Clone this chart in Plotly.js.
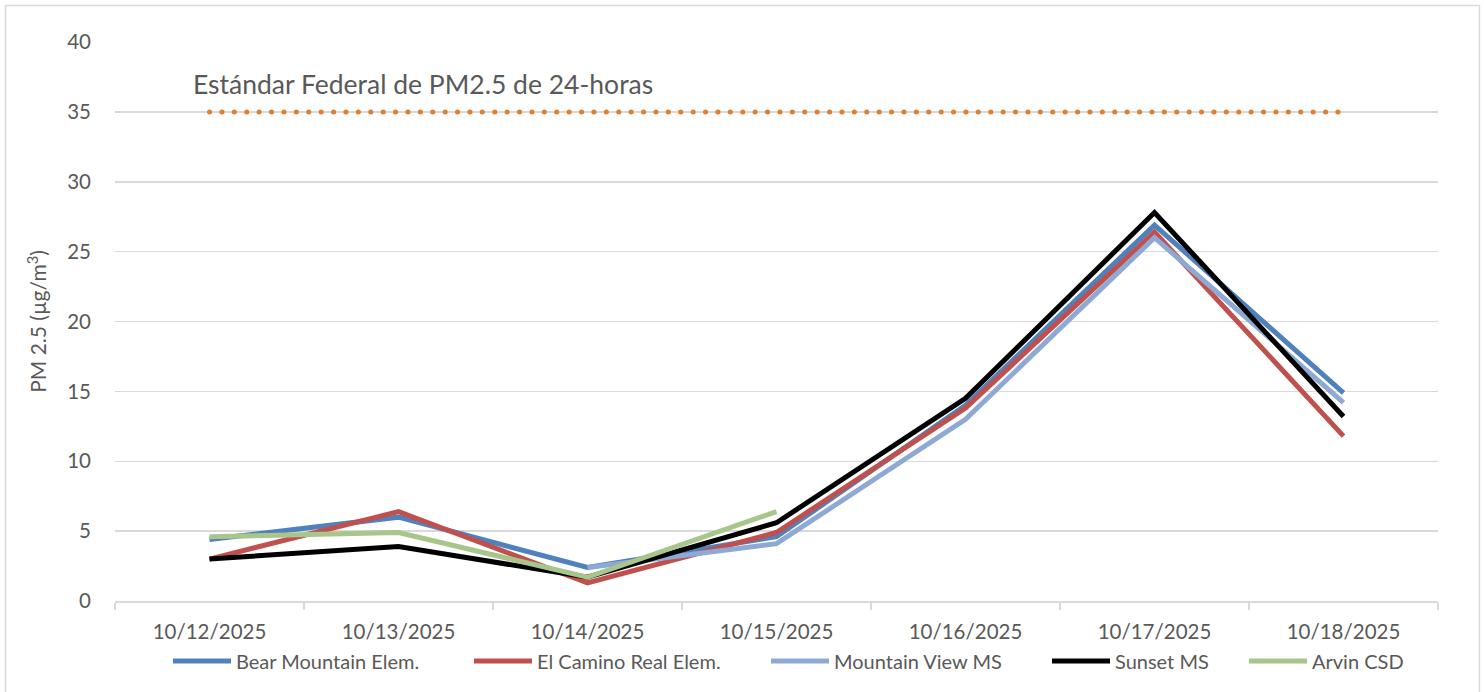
<!DOCTYPE html>
<html>
<head>
<meta charset="utf-8">
<script src="https://cdn.plot.ly/plotly-3.0.1.min.js"></script>
<style>
html,body{margin:0;padding:0;background:#fff;}
#chart{width:1484px;height:692px;}
</style>
</head>
<body>
<div id="chart"></div>
<script>
const categories = ["10/12/2025","10/13/2025","10/14/2025","10/15/2025","10/16/2025","10/17/2025","10/18/2025"];
const bearMountain = [4.4, 6.0, 2.4, 4.6, 14.0, 26.9, 14.9];
const elCamino = [3.0, 6.4, 1.3, 4.9, 13.8, 26.4, 11.8];
const mountainView = [null, null, 2.4, 4.1, 13.0, 26.0, 14.2];
const sunset = [3.0, 3.9, 1.7, 5.6, 14.5, 27.8, 13.2];
const arvin = [4.6, 4.9, 1.7, 6.4, null, null, null];
const federalStandard = [35, 35, 35, 35, 35, 35, 35];
const standardLabel = "Estándar Federal de PM2.5 de 24-horas";
const yTicks = [0, 5, 10, 15, 20, 25, 30, 35, 40];

const font = "Lato, 'Open Sans', sans-serif";
const gray = "#595959";

const W = 1484, H = 692, L = 115, R = 46, T = 42, B = 91;
const pw = W - L - R, ph = H - T - B;
const px = v => (v - L) / pw;
const py = v => (H - B - v) / ph;

function line(name, y, color, legend) {
  return {type: "scatter", mode: "lines", name: name, x: categories, y: y,
    line: {color: color, width: 5}, connectgaps: false, hoverinfo: "skip", legend: legend};
}

const traces = [
  {type: "scatter", mode: "lines", name: "standard", x: categories, y: federalStandard,
    showlegend: false, hoverinfo: "skip", line: {color: "#E07F31", width: 5, dash: "0.1px,12.3px"}},
  line("Bear Mountain Elem.", bearMountain, "#4F81BD", "legend"),
  line("El Camino Real Elem.", elCamino, "#C0504D", "legend2"),
  line("Mountain View MS", mountainView, "#8EA9D3", "legend3"),
  line("Sunset MS", sunset, "#000000", "legend4"),
  line("Arvin CSD", arvin, "#A8C68C", "legend5")
];

const legendStarts = [173, 474, 771, 1052, 1249];
function leg(xStart) {
  return {orientation: "h", x: px(xStart - 5), xanchor: "left", y: py(661), yanchor: "middle",
    font: {family: font, size: 20, color: gray}, itemwidth: 58, bgcolor: "rgba(0,0,0,0)",
    borderwidth: 0};
}

const layout = {
  width: W, height: H,
  margin: {l: L, r: R, t: T, b: B},
  paper_bgcolor: "#fff", plot_bgcolor: "#fff",
  font: {family: font, size: 20, color: gray},
  showlegend: true,
  legend: leg(legendStarts[0]),
  legend2: leg(legendStarts[1]),
  legend3: leg(legendStarts[2]),
  legend4: leg(legendStarts[3]),
  legend5: leg(legendStarts[4]),
  xaxis: {type: "category", range: [-0.5, 6.5], tickson: "boundaries",
    ticks: "outside", ticklen: 7, tickcolor: "#D9D9D9", tickwidth: 1.5,
    showline: true, linecolor: "#D9D9D9", linewidth: 1.5, showgrid: false,
    ticklabelstandoff: 12,
    tickfont: {family: font, size: 20.5, color: gray}, fixedrange: true},
  yaxis: {range: [0, 40], tickvals: yTicks, ticks: "", showline: false,
    gridcolor: "#D9D9D9", gridwidth: 1.5, zeroline: false,
    ticklabelstandoff: 23,
    tickfont: {family: font, size: 20.5, color: gray},
    title: {text: "PM 2.5 (µg/m<sup>3</sup>)", font: {family: font, size: 21, color: gray}, standoff: 14},
    fixedrange: true},
  annotations: [{xref: "paper", yref: "paper", x: px(191), y: py(84), xanchor: "left", yanchor: "middle",
    text: standardLabel, showarrow: false, font: {family: font, size: 26.5, color: gray}}],
  shapes: [{type: "rect", xref: "paper", yref: "paper", x0: px(5.5), x1: px(1479.5), y0: py(720), y1: py(5.5),
    line: {color: "#D9D9D9", width: 1.5}, fillcolor: "rgba(0,0,0,0)", layer: "below"}]
};

Plotly.newPlot("chart", traces, layout, {displayModeBar: false, staticPlot: true}).then(gd => {
  const paths = gd.querySelectorAll(".scatterlayer .trace")[0].querySelectorAll("path.js-line");
  paths.forEach(p => { p.style.strokeLinecap = "round"; });
});
</script>
</body>
</html>
